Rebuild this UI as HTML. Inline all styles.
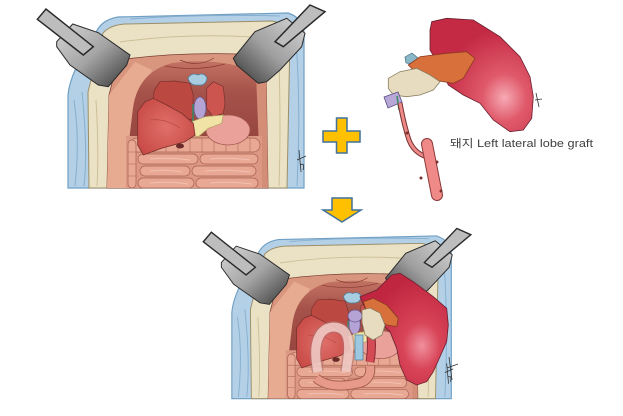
<!DOCTYPE html>
<html><head><meta charset="utf-8"><style>
html,body{margin:0;padding:0;background:#fff;}
svg{display:block;}
</style></head><body>
<svg width="623" height="416" viewBox="0 0 623 416" xmlns="http://www.w3.org/2000/svg">
<defs>
<linearGradient id="gBlock" x1="0" y1="0" x2="1" y2="1">
<stop offset="0" stop-color="#d6d6d6"/><stop offset="0.5" stop-color="#a4a4a4"/><stop offset="0.82" stop-color="#5e5e5e"/><stop offset="1" stop-color="#2e2e2e"/>
</linearGradient>
<linearGradient id="gBlockR" x1="1" y1="0" x2="0" y2="1">
<stop offset="0" stop-color="#d6d6d6"/><stop offset="0.5" stop-color="#a0a0a0"/><stop offset="0.82" stop-color="#5a5a5a"/><stop offset="1" stop-color="#2e2e2e"/>
</linearGradient>
<linearGradient id="gCav" x1="0" y1="0" x2="0" y2="1">
<stop offset="0" stop-color="#c27262"/><stop offset="0.35" stop-color="#a5524a"/><stop offset="1" stop-color="#93423c"/>
</linearGradient>
<radialGradient id="gGraft" cx="0.72" cy="0.7" r="0.6">
<stop offset="0" stop-color="#f6aab4"/><stop offset="0.35" stop-color="#e05a6b"/><stop offset="1" stop-color="#c42a44"/>
</radialGradient>
<radialGradient id="gGraft2" cx="0.7" cy="0.65" r="0.6">
<stop offset="0" stop-color="#f0909c"/><stop offset="0.35" stop-color="#d84458"/><stop offset="1" stop-color="#c02640"/>
</radialGradient>
<radialGradient id="gLiver" cx="0.5" cy="0.5" r="0.6">
<stop offset="0" stop-color="#e0706a"/><stop offset="1" stop-color="#c84a46"/>
</radialGradient>

<g id="field">
 <!-- drape -->
 <path d="M95,35 Q100,20 118,17 L288,13 Q303,18 304,32 L304,188 L68,188 L68,95 Q70,72 95,35Z" fill="#b3d0e6" stroke="#6f9fc4" stroke-width="1.2"/>
 <path d="M74,100 Q80,140 75,186 M82,92 Q88,150 84,186 M296,40 Q301,110 297,186 M130,19 Q200,14 280,16" fill="none" stroke="#86afcf" stroke-width="1"/>
 <!-- cream wall -->
 <path d="M103,33 Q110,25 125,24 L272,21 Q288,24 290,36 L287,188 L89,188 L88,92 Z" fill="#ebe2c5" stroke="#9c8e68" stroke-width="1"/>
 <path d="M120,42 Q190,32 268,38 M96,100 Q99,150 97,186 M279,60 Q281,130 279,186" fill="none" stroke="#cdbf95" stroke-width="1"/>
 <!-- interior -->
 <path d="M118,60 Q175,52 238,54 L266,66 L268,188 L107,188 L109,95 Z" fill="#d9967e" stroke="#7a3e32" stroke-width="0.8"/>
 <path d="M109,95 L135,62 L152,70 L137,110 L128,188 L107,188 Z" fill="#e6ab91"/>
 <path d="M250,62 L266,66 L268,188 L256,188 L253,100 Z" fill="#d48e78"/>
 <!-- cavity -->
 <path d="M133,108 Q138,72 172,63 Q220,57 256,72 L259,150 L128,150 Z" fill="url(#gCav)"/>
 <path d="M165,66 Q195,72 225,64 M180,60 Q198,68 214,58" fill="none" stroke="#8a3a34" stroke-width="0.7"/>
 <!-- intestines -->
 <rect x="126" y="136" width="136" height="52" fill="#dc9884"/>
 <g fill="#e8a893" stroke="#a8604f" stroke-width="0.7">
  <rect x="130" y="138" width="130" height="14" rx="7"/>
  <rect x="138" y="154" width="60" height="10" rx="5"/>
  <rect x="200" y="154" width="58" height="10" rx="5"/>
  <rect x="140" y="166" width="50" height="10" rx="5"/>
  <rect x="192" y="166" width="64" height="10" rx="5"/>
  <rect x="138" y="178" width="56" height="10" rx="5"/>
  <rect x="196" y="178" width="62" height="10" rx="5"/>
  <rect x="128" y="140" width="8" height="48" rx="4"/>
 </g>
 <path d="M142,138 V152 M154,138 V152 M166,138 V152 M178,138 V152 M190,138 V152 M202,138 V152 M214,138 V152 M226,138 V152 M238,138 V152 M250,138 V152 M128,152 H136 M128,164 H136 M128,176 H136" stroke="#b06a5a" stroke-width="0.6"/>
 <path d="M150,159 Q170,157 190,160 M210,159 Q230,157 250,160 M150,171 Q165,169 182,172 M205,171 Q225,169 250,172 M150,183 Q170,181 188,184 M210,183 Q230,181 252,184" fill="none" stroke="#f2c2b2" stroke-width="1"/>
 <!-- stomach -->
 <ellipse cx="228" cy="130" rx="22" ry="15" fill="#e9a19a" stroke="#a65a52" stroke-width="0.8"/>
 <!-- right lobe -->
 <path d="M206.7,88.3 L213.3,81.7 L223.3,86.7 L225,103.3 L223.3,113.3 L213.3,116.7 L206.7,108.3 Z" fill="#cc5550" stroke="#7a302c" stroke-width="0.7"/>
 <!-- blue cuff -->
 <path d="M188,78 Q192,72 198,75 Q204,72 207,78 Q206,86 198,85 Q190,86 188,78Z" fill="#a9cde0" stroke="#4a7f9f" stroke-width="0.8"/>
 <!-- upper lobe -->
 <path d="M154.3,90 L160,81.7 L175,81 L190,83.3 L193.3,95 L192.3,120 L180,116.7 L168.3,110 L153.3,98.3 Z" fill="#bc4842" stroke="#7a302c" stroke-width="0.7"/>
 <!-- purple -->
 <ellipse cx="200" cy="108" rx="6" ry="11" fill="#b5a3d6" stroke="#6a5a90" stroke-width="0.8"/>
 <path d="M193,104 L193,121" stroke="#3a8a6a" stroke-width="1.5"/>
 <!-- yellow fat -->
 <path d="M191.7,121.7 L205,116.7 L223.3,115 L221.7,123.3 L208.3,128.3 L198.3,136.7 L191.7,135 Z" fill="#f1e2a6" stroke="#b0a060" stroke-width="0.7"/>
 <!-- big lobe -->
 <path d="M137.7,111.7 L145,101.7 L153.3,98.3 L166.7,105 L181.7,113.3 L193.3,123.3 L195,135 L185,141.7 L161.7,148.3 L143.3,155 L137.7,145 Z" fill="url(#gLiver)" stroke="#7a302c" stroke-width="0.8"/>
 <path d="M150,120 Q165,118 180,128" fill="none" stroke="#b34440" stroke-width="0.6"/>
 <ellipse cx="180" cy="146" rx="4" ry="2.5" fill="#6a2a28"/>
 <!-- retractors -->
 <polygon points="56.7,41.7 72.7,24 98.3,32.7 130,55 126.7,65 108.3,86.7 98.3,85 70,65 56.7,46.7" fill="url(#gBlock)" stroke="#2a2a2a" stroke-width="1"/>
 <polygon points="37.3,19.3 46,9 93.3,46.7 83.3,55" fill="#bdbdbd" stroke="#2a2a2a" stroke-width="1.5"/>
 <polygon points="233.3,58.3 255,31.7 286.7,18.3 305,33.3 301.7,46.7 280,70 266.7,81.7 258.3,83.3 236.7,65" fill="url(#gBlockR)" stroke="#2a2a2a" stroke-width="1"/>
 <polygon points="310,5 325,11.7 283.3,46.7 275,41.7" fill="#bdbdbd" stroke="#2a2a2a" stroke-width="1.5"/>
 <!-- signature -->
 <path d="M299,150 L301,172 M297,160 L306,156 M300,165 Q305,162 303,170" fill="none" stroke="#333" stroke-width="0.8"/>
</g>
</defs>

<!-- top field -->
<use href="#field"/>

<!-- plus -->
<path d="M336.5,118 H347 V131 H360 V142 H347 V153 H336.5 V142 H323 V131 H336.5 Z" fill="#FFC000" stroke="#41719C" stroke-width="1.5"/>

<!-- top graft -->
<path d="M431.7,21.7 L446.7,18.3 L473.3,20 L500,36.7 L520,56.7 L530,76.7 L533.3,96.7 L531.7,118.3 L523.3,130 L510,131.7 L493.3,120 L480,103.3 L463.3,95 L448.3,85 L440,66.7 L430,50 L430,30 Z" fill="url(#gGraft)" stroke="#6a2030" stroke-width="0.8"/>
<path d="M536,93 L539,107 M535,100 L542,99" stroke="#333" stroke-width="0.8"/>
<path d="M405,57 L412,53 L418,58 L413,64 L406,63 Z" fill="#8ab8c8" stroke="#3a6a80" stroke-width="0.7"/>
<path d="M408.3,65 L420,56.7 L446.7,53.3 L466.7,51.7 L475,58.3 L470,66.7 L463.3,78.3 L453.3,83.3 L433.3,80 L416.7,73.3 Z" fill="#d8703c" stroke="#8a3a20" stroke-width="0.8"/>
<path d="M388.3,78.3 L400,71.7 L416.7,68.3 L430,75 L440,81.7 L433.3,90 L420,95 L406.7,96.7 L393.3,95 L388.3,88.3 Z" fill="#e8dcc0" stroke="#8a7d60" stroke-width="0.8"/>
<path d="M384,97 L398,92 L402,102 L388,108 Z" fill="#b8a8d8" stroke="#5a4a80" stroke-width="0.8"/>
<path d="M397,96 L399,110" stroke="#3a8a6a" stroke-width="1.5"/>
<path d="M400,103 Q404,125 409,140 Q414,153 427,157" fill="none" stroke="#7a3030" stroke-width="5"/>
<path d="M400,103 Q404,125 409,140 Q414,153 427,157" fill="none" stroke="#ec8a88" stroke-width="3"/>
<line x1="427" y1="144" x2="437" y2="195" stroke="#8a3838" stroke-width="12" stroke-linecap="round"/>
<line x1="427" y1="144" x2="437" y2="195" stroke="#f08a88" stroke-width="10" stroke-linecap="round"/>
<circle cx="407" cy="133" r="1.5" fill="#7a3030"/><circle cx="437" cy="162" r="1.5" fill="#7a3030"/><circle cx="421" cy="178" r="1.5" fill="#7a3030"/><circle cx="441" cy="191" r="1.5" fill="#7a3030"/>

<text x="450" y="147" font-family="'Liberation Sans','Noto Sans CJK KR',sans-serif" font-size="11" fill="#404040" textLength="143" lengthAdjust="spacingAndGlyphs">돼지 Left lateral lobe graft</text>

<!-- arrow -->
<path d="M332,198 H352 V210 H361 L342,222 L323,210 H332 Z" fill="#FFC000" stroke="#41719C" stroke-width="1.5"/>

<!-- bottom field -->
<use href="#field" transform="translate(168.6,223.8) scale(0.93)"/>

<!-- bottom overlays -->
<path d="M318,372 C312,345 318,328 333,327 C348,327 350,340 348,358 L346,372" fill="none" stroke="#b07070" stroke-width="12" stroke-opacity="0.55"/>
<path d="M318,372 C312,345 318,328 333,327 C348,327 350,340 348,358 L346,372" fill="none" stroke="#f6d4d0" stroke-width="9" stroke-opacity="0.8"/>
<path d="M316,378 Q330,390 360,383 Q372,379 370,366" fill="none" stroke="#a8604f" stroke-width="10"/>
<path d="M316,378 Q330,390 360,383 Q372,379 370,366" fill="none" stroke="#e89a8a" stroke-width="8"/>
<rect x="355" y="335" width="8" height="25" fill="#9cc8e0" stroke="#4a7f9f" stroke-width="0.7"/>
<path d="M370,362 Q373,345 370,328" fill="none" stroke="#8a2a34" stroke-width="9"/>
<path d="M370,362 Q373,345 370,328" fill="none" stroke="#d44a55" stroke-width="7"/>
<ellipse cx="355" cy="316" rx="7" ry="6" fill="#b5a3d6" stroke="#6a5a90" stroke-width="0.8"/>
<!-- bottom graft liver -->
<path d="M360,296.7 L376.7,290 L391.7,275 L400,273.3 L413.3,281.7 L433.3,296.7 L446.7,308.3 L448.3,325 L446.7,341.7 L440,356.7 L433.3,371.7 L426.7,381.7 L416.7,385 L406.7,380 L400,365 L396.7,348.3 L390,331.7 L380,321.7 L366.7,311.7 Z" fill="url(#gGraft2)" stroke="#6a2030" stroke-width="0.8"/>
<path d="M363.3,301.7 L373.3,298.3 L386.7,305 L398.3,318.3 L396.7,326.7 L386.7,325 L376.7,318.3 L366.7,311.7 Z" fill="#d8703c" stroke="#8a3a20" stroke-width="0.8"/>
<path d="M362,310 L370,308 L380,313 L385,325 L382,335 L373,340 L365,335 L362,322 Z" fill="#e8dcc0" stroke="#8a7d60" stroke-width="0.8"/>
<path d="M449,357 L452,380 M447,368 L458,364" stroke="#333" stroke-width="0.8"/>
</svg>
</body></html>
